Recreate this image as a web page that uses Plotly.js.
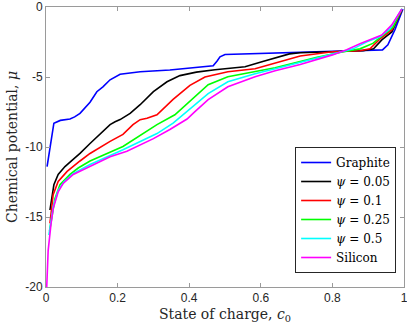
<!DOCTYPE html>
<html>
<head>
<meta charset="utf-8">
<script src="https://cdn.plot.ly/plotly-3.0.1.min.js"></script>
<style>
    html, body { margin: 0; padding: 0; background: #fff; }
    #graph { width: 407px; height: 325px; }
</style>
</head>
<body>
<div id="graph"></div>
<script>
const graphiteCharge = [0.003, 0.012, 0.022, 0.04, 0.067, 0.08, 0.095, 0.123, 0.142, 0.159, 0.179, 0.207, 0.263, 0.346, 0.416, 0.467, 0.478, 0.486, 0.5, 0.64, 0.71, 0.8, 0.94, 0.955, 0.975, 0.997];
const graphitePotential = [-11.4, -9.8, -8.3, -8.1, -8.0, -7.85, -7.6, -6.8, -6.05, -5.7, -5.2, -4.8, -4.63, -4.5, -4.32, -4.2, -3.85, -3.56, -3.39, -3.27, -3.22, -3.18, -3.06, -2.7, -1.6, -0.14];

const psi005Charge = [0.011, 0.022, 0.034, 0.053, 0.075, 0.095, 0.123, 0.151, 0.179, 0.193, 0.207, 0.235, 0.263, 0.3, 0.338, 0.374, 0.42, 0.472, 0.556, 0.603, 0.64, 0.68, 0.71, 0.8, 0.886, 0.915, 0.938, 0.966, 0.994];
const psi005Potential = [-14.5, -12.7, -11.96, -11.4, -10.9, -10.46, -9.75, -9.1, -8.4, -8.2, -8.04, -7.6, -6.98, -6.05, -5.34, -4.9, -4.65, -4.48, -4.27, -3.91, -3.63, -3.35, -3.27, -3.2, -3.13, -2.99, -2.35, -1.78, -0.2];

const psi01Charge = [0.011, 0.02, 0.034, 0.059, 0.095, 0.123, 0.179, 0.215, 0.243, 0.263, 0.282, 0.31, 0.355, 0.402, 0.444, 0.508, 0.584, 0.64, 0.71, 0.8, 0.877, 0.905, 0.933, 0.966, 0.994];
const psi01Potential = [-15.45, -13.4, -12.46, -11.74, -11.0, -10.46, -9.6, -9.1, -8.4, -8.05, -7.95, -7.7, -6.6, -5.6, -5.0, -4.63, -4.41, -4.02, -3.5, -3.2, -3.13, -2.99, -2.28, -1.64, -0.2];

const psi025Charge = [0.01, 0.025, 0.039, 0.067, 0.09, 0.123, 0.215, 0.31, 0.36, 0.416, 0.453, 0.508, 0.584, 0.64, 0.71, 0.757, 0.83, 0.877, 0.913, 0.941, 0.97, 0.994];
const psi025Potential = [-16.0, -13.7, -12.7, -11.96, -11.5, -11.0, -9.96, -8.4, -7.7, -6.4, -5.55, -4.98, -4.63, -4.34, -3.9, -3.6, -3.2, -2.99, -2.6, -2.0, -1.42, -0.14];

const psi05Charge = [0.008, 0.02, 0.034, 0.05, 0.076, 0.123, 0.215, 0.31, 0.355, 0.416, 0.453, 0.508, 0.584, 0.64, 0.71, 0.8, 0.858, 0.896, 0.933, 0.961, 0.994];
const psi05Potential = [-16.3, -14.3, -13.1, -12.5, -11.9, -11.25, -10.2, -9.04, -8.3, -7.0, -6.19, -5.34, -4.77, -4.41, -3.95, -3.4, -2.99, -2.49, -2.13, -1.56, -0.14];

const siliconCharge = [0.002, 0.006, 0.014, 0.02, 0.034, 0.048, 0.076, 0.123, 0.179, 0.226, 0.3, 0.346, 0.394, 0.416, 0.453, 0.508, 0.584, 0.64, 0.71, 0.8, 0.84, 0.877, 0.905, 0.938, 0.966, 0.994];
const siliconPotential = [-20, -17.4, -15.5, -14.4, -13.2, -12.6, -11.96, -11.4, -10.7, -10.3, -9.4, -8.75, -8.0, -7.47, -6.62, -5.7, -4.98, -4.56, -4.1, -3.42, -3.06, -2.63, -2.35, -2.0, -1.28, -0.14];

const seriesNames = ['Graphite', '<i>ψ</i> = 0.05', '<i>ψ</i> = 0.1', '<i>ψ</i> = 0.25', '<i>ψ</i> = 0.5', 'Silicon'];
const seriesColors = ['#0000ff', '#000000', '#ff0000', '#00ff00', '#00ffff', '#ff00ff'];

const xTicks = [0, 0.2, 0.4, 0.6, 0.8, 1];
const xTickLabels = ['0', '0.2', '0.4', '0.6', '0.8', '1'];
const yTicks = [-20, -15, -10, -5, 0];
const yTickLabels = ['-20', '-15', '-10', '-5', '0'];


function makeTrace(x, y, index) {
    return {
        x: x,
        y: y,
        mode: 'lines',
        type: 'scatter',
        name: seriesNames[index],
        line: {color: seriesColors[index], width: 1.6}
    };
}


const traces = [
    makeTrace(graphiteCharge, graphitePotential, 0),
    makeTrace(psi005Charge, psi005Potential, 1),
    makeTrace(psi01Charge, psi01Potential, 2),
    makeTrace(psi025Charge, psi025Potential, 3),
    makeTrace(psi05Charge, psi05Potential, 4),
    makeTrace(siliconCharge, siliconPotential, 5)
];

const titleFont = {family: 'DejaVu Serif, serif', size: 14, color: '#262626'};

const axisStyle = {
    showline: true,
    mirror: 'ticks',
    linecolor: '#9a9a9a',
    linewidth: 1,
    ticks: 'inside',
    ticklen: 4,
    tickcolor: '#9a9a9a',
    showgrid: false,
    zeroline: false,
    ticklabeloverflow: 'allow',
    tickfont: {family: 'Liberation Sans, Arial, sans-serif', size: 12, color: '#262626'}
};

const layout = {
    width: 407,
    height: 325,
    autosize: false,
    margin: {l: 46, r: 3, t: 7, b: 38},
    paper_bgcolor: '#ffffff',
    plot_bgcolor: '#ffffff',
    xaxis: Object.assign({}, axisStyle, {
        range: [0, 1],
        tickvals: xTicks,
        ticktext: xTickLabels,
        title: {text: 'State of charge, <i>c</i><sub>0</sub>', font: titleFont, standoff: 4}
    }),
    yaxis: Object.assign({}, axisStyle, {
        range: [-20, 0],
        tickvals: yTicks,
        ticktext: yTickLabels,
        title: {text: 'Chemical potential, <i>μ</i>', font: titleFont, standoff: 4}
    }),
    showlegend: true,
    legend: {
        x: 0.978,
        y: 0.05,
        xanchor: 'right',
        yanchor: 'bottom',
        bgcolor: '#ffffff',
        bordercolor: '#262626',
        borderwidth: 1,
        itemwidth: 30,
        font: {family: 'DejaVu Serif, serif', size: 12, color: '#000000'},
        tracegroupgap: 0
    }
};

const config = {
    displayModeBar: false,
    staticPlot: true
};

Plotly.newPlot('graph', traces, layout, config);
</script>
</body>
</html>
